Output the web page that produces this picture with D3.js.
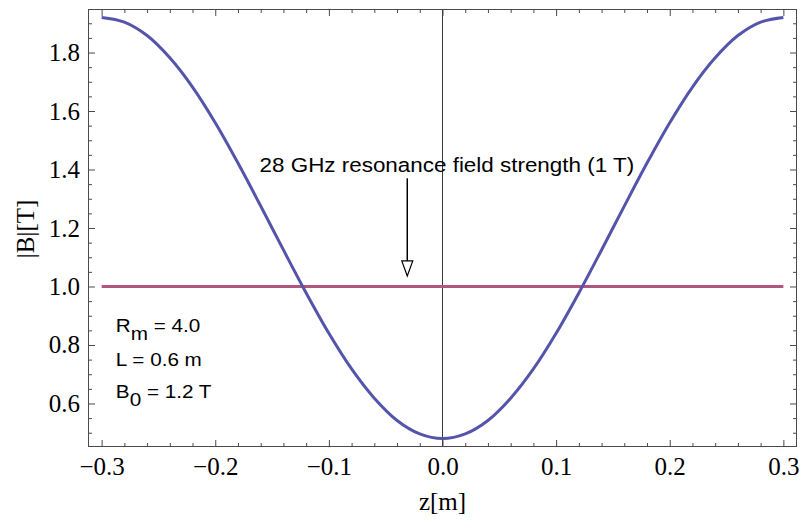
<!DOCTYPE html>
<html>
<head>
<meta charset="utf-8">
<script src="https://cdn.jsdelivr.net/npm/d3@7"></script>
<style>
  html, body { margin: 0; padding: 0; background: #fff; }
  svg { display: block; }
</style>
</head>
<body>
<svg id="chart" width="804" height="521"></svg>
<script>
// Axial position along the mirror [m]
const zValues = [
  -0.30, -0.28, -0.26, -0.24, -0.22, -0.20, -0.18, -0.16, -0.14, -0.12, -0.10,
  -0.08, -0.06, -0.04, -0.02, 0.00, 0.02, 0.04, 0.06, 0.08, 0.10,
  0.12, 0.14, 0.16, 0.18, 0.20, 0.22, 0.24, 0.26, 0.28, 0.30
];
// Field magnitude |B| [T] along the axis
const bValues = [
  1.920, 1.904, 1.858, 1.782, 1.682, 1.560, 1.422, 1.275, 1.125, 0.978, 0.840,
  0.718, 0.618, 0.542, 0.496, 0.480, 0.496, 0.542, 0.618, 0.718, 0.840,
  0.978, 1.125, 1.275, 1.422, 1.560, 1.682, 1.782, 1.858, 1.904, 1.920
];
// 28 GHz ECR resonance field
const resonanceZ = [-0.30, 0.30];
const resonanceB = [1.0, 1.0];

// Tick labels
const xMajorTicks = [-0.3, -0.2, -0.1, 0.0, 0.1, 0.2, 0.3];
const yMajorTicks = [0.6, 0.8, 1.0, 1.2, 1.4, 1.6, 1.8];

// Annotation texts
const resonanceLabel = "28 GHz resonance field strength (1 T)";
const paramLabels = [
  { main: "R", sub: "m", rest: " = 4.0" },
  { main: "L = 0.6 m", sub: "", rest: "" },
  { main: "B", sub: "0", rest: " = 1.2 T" }
];

const svg = d3.select("#chart");
const frame = { left: 88, right: 797, top: 9, bottom: 447 };

const x = d3.scaleLinear().domain([-0.312, 0.312]).range([frame.left, frame.right]);
const y = d3.scaleLinear().domain([0.4512, 1.9488]).range([frame.bottom, frame.top]);

const xMinor = d3.range(-30, 31, 2).map(d => d / 100).filter(v => Math.abs(Math.round(v * 10) - v * 10) > 1e-6);
const yMinor = d3.range(10, 39, 1).map(d => d / 20).filter(v => Math.abs(Math.round(v * 5) - v * 5) > 1e-6);

const serif = "'Liberation Serif', 'Times New Roman', serif";
const sans = "'Liberation Sans', Arial, Helvetica, sans-serif";
const frameColor = "#4a4a4a";

// Axis line at z = 0
svg.append("line")
  .attr("x1", x(0)).attr("x2", x(0))
  .attr("y1", frame.top).attr("y2", frame.bottom)
  .attr("stroke", "#3a3a3a").attr("stroke-width", 1);

// Resonance level
const line = d3.line().x(d => x(d[0])).y(d => y(d[1]));
svg.append("path")
  .datum(resonanceZ.map((z, i) => [z, resonanceB[i]]))
  .attr("d", line)
  .attr("fill", "none")
  .attr("stroke", "#b0567f")
  .attr("stroke-width", 3);

// Field profile
svg.append("path")
  .datum(zValues.map((z, i) => [z, bValues[i]]))
  .attr("d", line.curve(d3.curveCatmullRom))
  .attr("fill", "none")
  .attr("stroke", "#5454aa")
  .attr("stroke-width", 3)
  .attr("stroke-linejoin", "round");

// Frame axes with inward ticks
function styleAxis(g) {
  g.select(".domain").remove();
  g.selectAll(".tick line").attr("stroke", frameColor);
  g.selectAll(".tick text")
    .attr("fill", "#000")
    .style("font-family", serif)
    .style("font-size", "25px");
}

const fmt = d3.format(".1f");

svg.append("g").attr("transform", `translate(0,${frame.bottom})`)
  .call(d3.axisBottom(x).tickValues(xMajorTicks).tickFormat(fmt).tickSizeInner(-7).tickSizeOuter(0).tickPadding(10))
  .call(styleAxis);
svg.append("g").attr("transform", `translate(0,${frame.bottom})`)
  .call(d3.axisBottom(x).tickValues(xMinor).tickFormat("").tickSizeInner(-4).tickSizeOuter(0))
  .call(styleAxis);
svg.append("g").attr("transform", `translate(0,${frame.top})`)
  .call(d3.axisTop(x).tickValues(xMajorTicks).tickFormat("").tickSizeInner(-7).tickSizeOuter(0))
  .call(styleAxis);
svg.append("g").attr("transform", `translate(0,${frame.top})`)
  .call(d3.axisTop(x).tickValues(xMinor).tickFormat("").tickSizeInner(-4).tickSizeOuter(0))
  .call(styleAxis);

svg.append("g").attr("transform", `translate(${frame.left},0)`)
  .call(d3.axisLeft(y).tickValues(yMajorTicks).tickFormat(fmt).tickSizeInner(-7).tickSizeOuter(0).tickPadding(8))
  .call(styleAxis);
svg.append("g").attr("transform", `translate(${frame.left},0)`)
  .call(d3.axisLeft(y).tickValues(yMinor).tickFormat("").tickSizeInner(-4).tickSizeOuter(0))
  .call(styleAxis);
svg.append("g").attr("transform", `translate(${frame.right},0)`)
  .call(d3.axisRight(y).tickValues(yMajorTicks).tickFormat("").tickSizeInner(-7).tickSizeOuter(0))
  .call(styleAxis);
svg.append("g").attr("transform", `translate(${frame.right},0)`)
  .call(d3.axisRight(y).tickValues(yMinor).tickFormat("").tickSizeInner(-4).tickSizeOuter(0))
  .call(styleAxis);

// Frame
svg.append("rect")
  .attr("x", frame.left + 0.5).attr("y", frame.top + 0.5)
  .attr("width", frame.right - frame.left - 1).attr("height", frame.bottom - frame.top - 1)
  .attr("fill", "none").attr("stroke", frameColor).attr("stroke-width", 1);

// Axis titles
svg.append("text")
  .attr("x", x(0)).attr("y", 510)
  .attr("text-anchor", "middle")
  .style("font-family", serif).style("font-size", "25px")
  .text("z[m]");
svg.append("text")
  .attr("transform", `translate(34,229) rotate(-90)`)
  .attr("text-anchor", "middle")
  .style("font-family", serif).style("font-size", "25px")
  .text("|B|[T]");

// Resonance annotation with arrow
svg.append("text")
  .attr("transform", `translate(${x(-0.161)},${y(1.39)}) scale(1.15,1)`)
  .style("font-family", sans).style("font-size", "19.5px")
  .text(resonanceLabel);

const arrowZ = -0.031, arrowTop = 1.37, arrowTip = 1.036;
const ax = x(arrowZ), headH = 15, headW = 11;
svg.append("line")
  .attr("x1", ax).attr("x2", ax)
  .attr("y1", y(arrowTop)).attr("y2", y(arrowTip) - headH)
  .attr("stroke", "#000").attr("stroke-width", 1.5);
svg.append("path")
  .attr("d", `M${ax - headW / 2},${y(arrowTip) - headH} L${ax + headW / 2},${y(arrowTip) - headH} L${ax},${y(arrowTip)} Z`)
  .attr("fill", "#fff").attr("stroke", "#000").attr("stroke-width", 1.2)
  .attr("stroke-linejoin", "miter");

// Parameter block
const paramBase = [0.845, 0.728, 0.619];
paramLabels.forEach((p, i) => {
  const t = svg.append("text")
    .attr("transform", `translate(${x(-0.2875)},${y(paramBase[i])}) scale(1.15,1)`)
    .style("font-family", sans).style("font-size", "18px")
    .attr("xml:space", "preserve");
  t.append("tspan").text(p.main);
  if (p.sub) t.append("tspan").attr("dy", 8).text(p.sub);
  if (p.rest) t.append("tspan").attr("dy", p.sub ? -8 : 0).text(p.rest);
});
</script>
</body>
</html>
